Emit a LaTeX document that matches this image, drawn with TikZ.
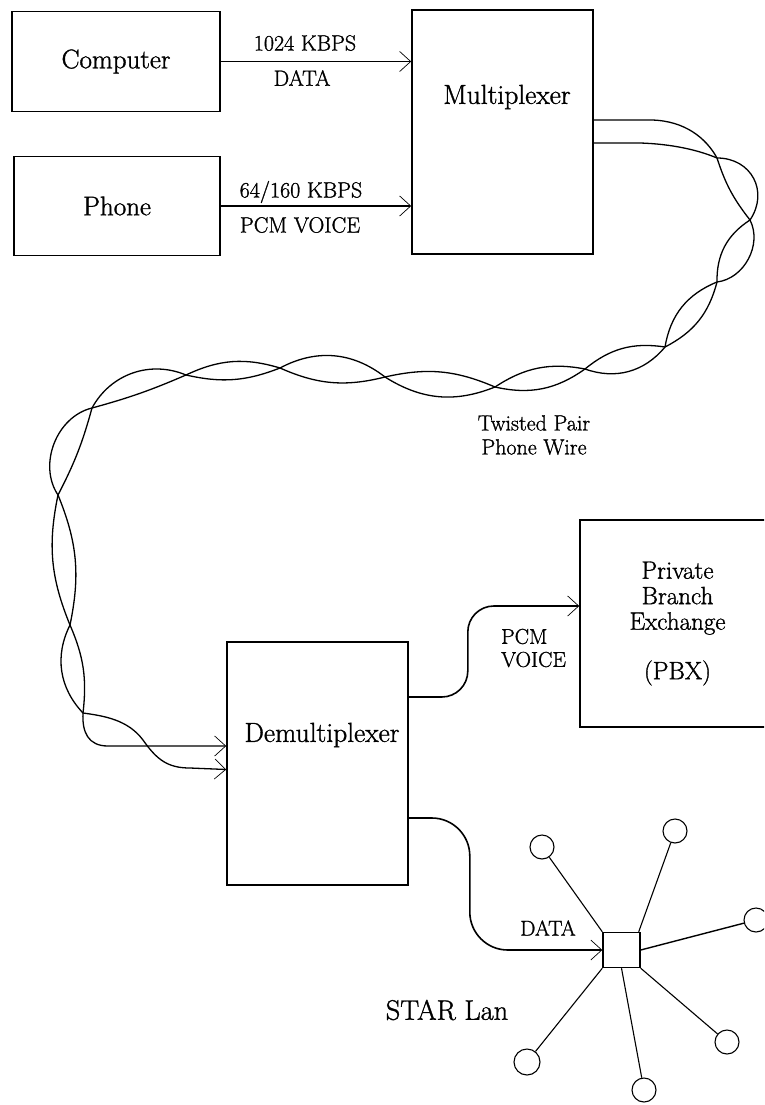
\documentclass[tikz,border=0pt]{standalone}
\usepackage{fontspec}
\newfontface\wf{Latin Modern Roman}[FakeBold=1.2]
\usetikzlibrary{arrows.meta}
\begin{document}
\begin{tikzpicture}[x=1pt,y=1pt,
  box/.style={draw, line width=1.6pt, inner sep=0pt, font=\wf\fontsize{27}{30}\selectfont},
  big/.style={inner sep=0pt, font=\wf\fontsize{27.5}{30}\selectfont},
  lab/.style={inner sep=0pt, font=\wf\fontsize{22}{25}\selectfont},
  small/.style={inner sep=0pt, font=\wf\fontsize{21.5}{23}\selectfont},
  conn/.style={line width=1.6pt, -{Straight Barb[length=11pt,width=20pt,line width=0.7pt]}},
  wire/.style={line width=1.3pt},
  spoke/.style={line width=1.1pt},
  station/.style={draw, circle, line width=1.1pt, minimum size=24pt, inner sep=0pt}
]
\useasboundingbox (0,0) rectangle (764,-1105);
\clip (0,0) rectangle (764,-1105);

% boxes
\node[box, minimum width=208pt, minimum height=100pt] (comp) at (116,-61.5) {Computer};
\node[box, minimum width=206pt, minimum height=99pt] (phone) at (117,-206) {Phone};
\node[box, minimum width=181pt, minimum height=244pt] (mux) at (502.5,-132) {};
\node[big] (muxl) at (507,-97) {Multiplexer};
\node[box, minimum width=181pt, minimum height=243pt] (dm) at (317.5,-763.5) {};
\node[big] (dml) at (322,-735) {Demultiplexer};
\node[box, align=center, minimum width=195pt, minimum height=207pt,
      font=\wf\fontsize{25}{25.5}\selectfont] (pbx) at (677.5,-623.5)
      {Private\\Branch\\Exchange\\[24pt](PBX)};
\node[draw, line width=1.4pt, minimum width=37pt, minimum height=35pt, inner sep=0pt] (hub) at (621.5,-950) {};

% inputs to multiplexer
\draw[conn] (comp.east) -- (comp.east -| mux.west);
\node[lab] (l1) at (305,-43) {1024 KBPS};
\node[lab] (l2) at (302,-78) {DATA};
\draw[conn] (phone.east) -- (phone.east -| mux.west);
\node[lab] (l3) at (301,-192) {64/160 KBPS};
\node[lab] (l4) at (300,-225) {PCM VOICE};

% twisted pair
\coordinate (mxa) at ([yshift=12pt]mux.east);
\coordinate (mxb) at ([yshift=-11pt]mux.east);
\coordinate (dma) at ([yshift=17.5pt]dm.west);
\coordinate (dmb) at ([yshift=-6pt]dm.west);
\coordinate (X1) at (717,-158);
\coordinate (X2) at (750,-220);
\coordinate (X3) at (717,-282);
\coordinate (X4) at (665,-347);
\coordinate (X5) at (585,-369);
\coordinate (X6) at (495,-387);
\coordinate (X7) at (385,-377);
\coordinate (X8) at (280,-368);
\coordinate (X9) at (186,-375);
\coordinate (X10) at (92,-408);
\coordinate (X11) at (58,-495);
\coordinate (X12) at (70,-625);
\coordinate (X13) at (83,-713);

\draw[wire, conn, line width=1.3pt] (mxb) -- (640,-143) .. controls (672,-144) and (698,-150) .. (X1)
  to[bend left=62, looseness=1.25] (X2) to[bend right=29] (X3) to[bend left=24] (X4)
  to[bend right=24] (X5) to[bend left=24] (X6) to[bend right=18] (X7)
  to[bend left=19] (X8) to[bend right=21] (X9) to[bend left=4] (X10)
  to[bend right=55] (X11) to[bend left=17] (X12) to[bend right=35] (X13)
  .. controls (105,-716) and (128,-720) .. (143,-740)
  .. controls (157,-760) and (168,-768) .. (190,-768) -- (dmb);

\draw[wire, conn, line width=1.3pt] (mxa) -- (652,-120) .. controls (685,-121) and (706,-138) .. (X1)
  to[bend right=10] (X2) to[bend left=55] (X3) to[bend right=29] (X4)
  to[bend left=35] (X5) to[bend right=22] (X6) to[bend left=27] (X7)
  to[bend right=33] (X8) to[bend left=17] (X9) to[bend right=42] (X10)
  to[bend left=6] (X11) to[bend right=17] (X12) to[bend left=15] (X13)
  .. controls (82,-732) and (88,-746) .. (108,-746) -- (dma);

\node[lab, align=center, font=\wf\fontsize{22}{24}\selectfont] (tw) at (534,-435) {Twisted Pair\\Phone Wire};

% outputs of demultiplexer
\draw[conn, rounded corners=26pt] ([yshift=66.5pt]dm.east) -- ++(59,0) -- ++(0,91) -- ([yshift=17.5pt]pbx.west);
\node[small, align=left, anchor=west] (pv) at (501,-648) {PCM\\VOICE};

\draw[conn, rounded corners=38pt] ([yshift=-54.5pt]dm.east) -- ++(61,0) -- ++(0,-132) -- (hub.west);
\node[small] (dl) at (548,-928) {DATA};

% STAR LAN
\node[station] (c1) at (542,-847) {};
\node[station] (c2) at (675,-831) {};
\node[station] (c3) at (756,-920) {};
\node[station] (c4) at (727,-1042) {};
\node[station] (c5) at (644,-1090) {};
\node[station, minimum size=26pt] (c6) at (527,-1062) {};
\draw[spoke] (hub.north west) -- (c1);
\draw[spoke] ([xshift=-2pt]hub.north east) -- (c2);
\draw[spoke, line width=1.4pt] (hub.east) -- (c3);
\draw[spoke] (hub.south east) -- (c4);
\draw[spoke] (hub.south) -- (c5);
\draw[spoke] (hub.south west) -- (c6);
\node[big, font=\wf\fontsize{28.3}{30}\selectfont] (sl) at (447,-1010) {STAR Lan};
\end{tikzpicture}
\end{document}
